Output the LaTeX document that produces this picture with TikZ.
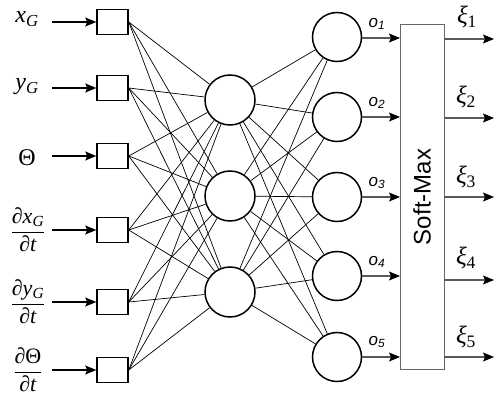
\documentclass[tikz,border=0pt]{standalone}
\usepackage{fontspec}
\usepackage{amsmath}
\setmainfont{Liberation Serif}
\setsansfont{Liberation Sans}
\usetikzlibrary{arrows.meta}
\begin{document}
\begin{tikzpicture}[x=1pt,y=-1pt,
  inbox/.style={draw,line width=1.5pt,minimum width=31pt,minimum height=25pt,inner sep=0pt},
  hid/.style={draw,circle,line width=1.5pt,minimum size=50pt,inner sep=0pt},
  outn/.style={draw,circle,line width=1.5pt,minimum size=49pt,inner sep=0pt},
  smax/.style={draw=black!60,line width=1pt,minimum width=44pt,minimum height=344pt,inner sep=0pt},
  arr/.style={line width=1.1pt,-{Stealth[length=11pt,width=9pt,inset=2pt]}},
  garr/.style={draw=black!65,line width=1.1pt,-{Stealth[length=11pt,width=9pt,inset=2pt,color=black]}},
  link/.style={line width=0.7pt},
  lab/.style={font=\fontsize{24}{26}\selectfont,inner sep=0pt},
  flab/.style={font=\fontsize{22}{24}\selectfont,inner sep=0pt},
  olab/.style={font=\sffamily\itshape\fontsize{17}{19}\selectfont,inner sep=0pt},
  xlab/.style={font=\fontsize{25}{27}\selectfont,inner sep=0pt}]
\useasboundingbox (0,0) rectangle (501,401);
% input boxes
\node[inbox] (i1) at (112.5,22) {};
\node[inbox] (i2) at (112.5,88) {};
\node[inbox] (i3) at (112.5,156) {};
\node[inbox] (i4) at (112.5,230) {};
\node[inbox] (i5) at (112.5,302) {};
\node[inbox] (i6) at (112.5,370) {};
% input labels
\node[lab] (l1) at (27,19) {\textit{x}\textsubscript{\textit{G}}};
\node[lab] (l2) at (27,87) {\textit{y}\textsubscript{\textit{G}}};
\node[lab] (l3) at (27,158) {Θ};
\node[flab] (l4) at (28,230) {$\dfrac{\text{∂\textit{x}\textsubscript{\textit{G}}}}{\text{∂\textit{t}}}$};
\node[flab] (l5) at (28,302) {$\dfrac{\text{∂\textit{y}\textsubscript{\textit{G}}}}{\text{∂\textit{t}}}$};
\node[flab] (l6) at (28,370) {$\dfrac{\text{∂Θ}}{\text{∂\textit{t}}}$};
\foreach \k/\yy in {1/22,2/88,3/156,4/230,5/302,6/370}{
  \coordinate (s\k) at (52,\yy);
  \draw[arr] (s\k) -- (i\k.west);
}
% hidden
\node[hid] (h1) at (230,100) {};
\node[hid] (h2) at (230,196) {};
\node[hid] (h3) at (230,292) {};
% output
\node[outn] (o1) at (337,37) {};
\node[outn] (o2) at (337,117) {};
\node[outn] (o3) at (337,197) {};
\node[outn] (o4) at (337,276) {};
\node[outn] (o5) at (337,357) {};
% links
\foreach \a in {1,...,6}{\foreach \b in {1,2,3}{\draw[link] (i\a.east) -- (h\b);}}
\foreach \a in {1,2,3}{\foreach \b in {1,...,5}{\draw[link] (h\a) -- (o\b);}}
% softmax
\node[smax] (sm) at (422,197) {};
\node[font=\sffamily\fontsize{24}{26}\selectfont,rotate=90,inner sep=0pt] (smt) at (422,197) {Soft-Max};
\foreach \k/\yy/\zz in {1/38/39,2/117/118,3/197/197,4/276/280,5/357/357}{
  \coordinate (a\k) at (400,\yy);
  \coordinate (b\k) at (444,\zz);
  \coordinate (c\k) at (494,\zz);
  \draw[garr] (o\k.east |- a\k) -- (a\k);
  \draw[garr] (b\k) -- (c\k);
}
% o labels
\node[olab] (ol1) at (377,24) {o\textsubscript{1}};
\node[olab] (ol2) at (377,103) {o\textsubscript{2}};
\node[olab] (ol3) at (377,183) {o\textsubscript{3}};
\node[olab] (ol4) at (377,262) {o\textsubscript{4}};
\node[olab] (ol5) at (377,342) {o\textsubscript{5}};
% xi labels
\node[xlab] (x1) at (467,17) {\textit{ξ}\textsubscript{1}};
\node[xlab] (x2) at (466,97) {\textit{ξ}\textsubscript{2}};
\node[xlab] (x3) at (466,177) {\textit{ξ}\textsubscript{3}};
\node[xlab] (x4) at (466,258) {\textit{ξ}\textsubscript{4}};
\node[xlab] (x5) at (466,337) {\textit{ξ}\textsubscript{5}};
\end{tikzpicture}
\end{document}
